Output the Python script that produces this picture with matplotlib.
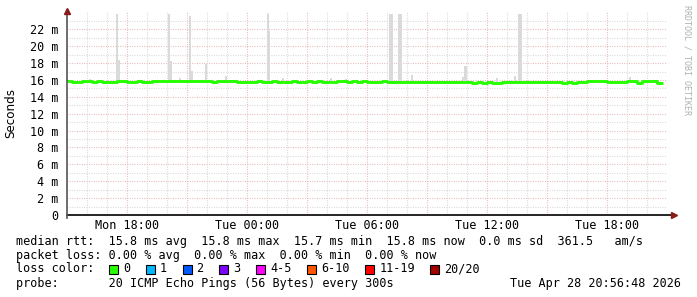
import matplotlib
matplotlib.use("Agg")
import matplotlib.pyplot as plt
from matplotlib.patches import Rectangle

# hours after Mon 15:00, one median value every 15 minutes
median_ms = [
    15.88, 15.7, 15.7, 15.88, 15.88, 15.7, 15.88, 15.7, 15.7, 15.7,
    15.88, 15.88, 15.7, 15.7, 15.88, 15.7, 15.7, 15.88, 15.88, 15.88,
    15.88, 15.88, 15.88, 15.88, 15.88, 15.88, 15.88, 15.88, 15.88, 15.7,
    15.88, 15.88, 15.88, 15.88, 15.7, 15.7, 15.7, 15.7, 15.88, 15.7,
    15.7, 15.88, 15.7, 15.7, 15.7, 15.88, 15.7, 15.7, 15.88, 15.7,
    15.88, 15.7, 15.7, 15.7, 15.88, 15.88, 15.7, 15.88, 15.7, 15.88,
    15.7, 15.7, 15.7, 15.88, 15.7, 15.8, 15.78, 15.78, 15.78, 15.78,
    15.78, 15.78, 15.78, 15.78, 15.78, 15.78, 15.78, 15.78, 15.78, 15.78,
    15.78, 15.65, 15.78, 15.65, 15.78, 15.65, 15.65, 15.78, 15.78, 15.78,
    15.78, 15.78, 15.78, 15.78, 15.78, 15.78, 15.78, 15.78, 15.78, 15.65,
    15.78, 15.65, 15.78, 15.78, 15.88, 15.88, 15.88, 15.88, 15.7, 15.7,
    15.7, 15.7, 15.82, 15.82, 15.68, 15.82, 15.82, 15.82, 15.68, 15.68,
    15.68,
]
median_hours = [i * 0.25 for i in range(len(median_ms) - 1)] + [29.8]

# smoke (ping spread) peaks
smoke_hours = [1.1, 2.46, 2.54, 5.04, 5.12, 5.6, 6.1, 6.18, 6.88, 7.88,
               9.98, 10.04, 10.75, 13.15, 13.9, 16.1, 16.18, 16.55, 16.63,
               17.2, 19.75, 19.83, 19.9, 21.45, 22.35, 22.55, 22.63, 28.1]
smoke_top = [16.1, 23.8, 18.4, 23.8, 18.2, 16.2, 23.6, 17.1, 17.9, 16.5,
             23.8, 21.8, 16.2, 16.2, 16.1, 23.8, 23.8, 23.8, 23.8,
             16.6, 16.4, 17.6, 17.6, 16.2, 16.5, 23.8, 23.8, 16.4]

x_tick_hours = [3, 9, 15, 21, 27]
x_tick_labels = ["Mon 18:00", "Tue 00:00", "Tue 06:00", "Tue 12:00", "Tue 18:00"]
y_ticks = [0, 2, 4, 6, 8, 10, 12, 14, 16, 18, 20, 22]
y_tick_labels = ["0"] + ["%d m" % v for v in y_ticks[1:]]

loss_labels = ["0", "1", "2", "3", "4-5", "6-10", "11-19", "20/20"]
loss_colors = ["#26ff00", "#00b8ff", "#0059ff", "#7e00ff", "#ff00ff",
               "#ff5500", "#ff0000", "#a10000"]

legend_lines = [
    "median rtt:  15.8 ms avg  15.8 ms max  15.7 ms min  15.8 ms now  0.0 ms sd  361.5   am/s",
    "packet loss: 0.00 % avg  0.00 % max  0.00 % min  0.00 % now",
    "loss color:",
    "probe:       20 ICMP Echo Pings (56 Bytes) every 300s",
]
stamp = "Tue Apr 28 20:56:48 2026"

W, H = 697, 297
mono = "DejaVu Sans Mono"
fs = 8.5

fig = plt.figure(figsize=(W / 100, H / 100), dpi=100, facecolor="white")
ax = fig.add_axes([67 / W, 82 / H, 600 / W, 203 / H])
ax.set_xlim(0, 30)
ax.set_ylim(0, 203 / 8.44)

dots = (0, (0.72, 1.44))
for h in range(1, 30):
    major = h % 3 == 0
    ax.axvline(h, color="#e2a8a8" if major else "#cfcfcf", lw=0.8,
               linestyle=dots, zorder=1)
for v in range(1, 24):
    major = v % 2 == 0
    ax.axhline(v, color="#e2a8a8" if major else "#cfcfcf", lw=0.8,
               linestyle=dots, zorder=1)

ax.bar(smoke_hours, [t - 15.8 for t in smoke_top], width=0.11, bottom=15.8,
       align="edge", color="#dadada", zorder=2)
ax.plot(median_hours, median_ms, color="#26ff00", lw=2.1,
        drawstyle="steps-post", zorder=3, solid_capstyle="butt")

for s in ax.spines.values():
    s.set_visible(False)
ax.set_xticks(x_tick_hours)
ax.set_xticklabels(x_tick_labels, fontfamily=mono, fontsize=fs)
ax.set_yticks(y_ticks)
ax.set_yticklabels(y_tick_labels, fontfamily=mono, fontsize=fs)
ax.tick_params(axis="x", length=0, pad=3)
ax.tick_params(axis="y", length=0, pad=6)

# axes with arrows
ax.plot([0, 1.01], [0, 0], transform=ax.transAxes, color="black", lw=1.2,
        clip_on=False, zorder=5)
ax.plot([0, 0], [-0.015, 1.01], transform=ax.transAxes, color="#555555",
        lw=1.2, clip_on=False, zorder=5)
ax.plot([1.005 + 4 / 600], [0], transform=ax.transAxes, marker=">",
        color="#8b1a1a", markersize=4, clip_on=False, zorder=6)
ax.plot([0], [1.0 + 1 / 203], transform=ax.transAxes, marker="^",
        color="#8b1a1a", markersize=4, clip_on=False, zorder=6)

fig.text(11 / W, 1 - 113 / H, "Seconds", fontsize=8.6, rotation=90,
         ha="center", va="center")


def put(x, y, s, **kw):
    fig.text(x / W, 1 - y / H, s, fontfamily=mono, fontsize=fs, va="center", **kw)


for k, line in enumerate(legend_lines):
    put(16, 241 + 14 * k, line)
put(681, 283, stamp, ha="right")

cw = 7.1
bx = 109
for lab, col in zip(loss_labels, loss_colors):
    fig.patches.append(Rectangle((bx / W, 1 - 274 / H), 9 / W, 9 / H,
                                 transform=fig.transFigure, facecolor=col,
                                 edgecolor="black", lw=0.8))
    put(bx + 14, 269, lab)
    bx = bx + 14 + len(lab) * cw + 15.7

fig.text(687 / W, 1 - 5 / H, "RRDTOOL / TOBI OETIKER", fontfamily=mono,
         fontsize=6, color="#b0b0b0", rotation=-90, ha="center", va="top")

fig.savefig("out.png", dpi=100, facecolor="white")
